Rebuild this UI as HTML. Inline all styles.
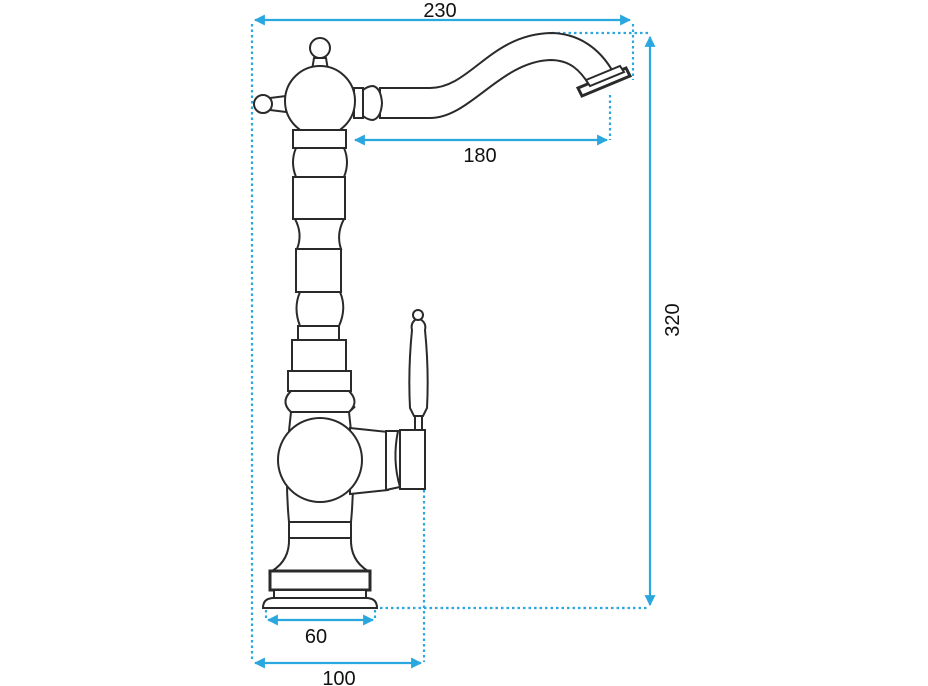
<!DOCTYPE html>
<html><head><meta charset="utf-8"><style>html,body{margin:0;padding:0;background:#fff}svg{display:block}</style></head><body>
<svg width="928" height="686" viewBox="0 0 928 686" xmlns="http://www.w3.org/2000/svg">
<defs><marker id="a" viewBox="0 0 10 10" refX="9" refY="5" markerWidth="5" markerHeight="5" orient="auto-start-reverse"><path d="M0,0L10,5L0,10z" fill="#2aa7df"/></marker></defs>
<g fill="none" stroke="#2aa7df" stroke-width="2.2">
<g stroke-dasharray="2.5,3">
<path d="M252,24V662"/><path d="M633,24V80"/><path d="M552,33H648"/><path d="M610,95V140"/>
<path d="M380,608H648"/><path d="M424,490V662"/><path d="M266,610V620"/><path d="M375,610V620"/>
</g>
<path d="M255,20H630" marker-start="url(#a)" marker-end="url(#a)"/>
<path d="M650,37V605" marker-start="url(#a)" marker-end="url(#a)"/>
<path d="M355,140H607" marker-start="url(#a)" marker-end="url(#a)"/>
<path d="M268,620H373" marker-start="url(#a)" marker-end="url(#a)"/>
<path d="M255,663H421" marker-start="url(#a)" marker-end="url(#a)"/>
</g>
<g font-family="Liberation Sans, sans-serif" font-size="20" fill="#111" text-anchor="middle">
<text x="440" y="17">230</text><text x="480" y="162">180</text>
<text x="316" y="643">60</text><text x="339" y="685">100</text>
<text transform="translate(679,320) rotate(-90)">320</text>
</g>
<g fill="#fff" stroke="#2a2a2a" stroke-width="2">
<!-- spout -->
<path d="M380,88H430C470,88 490,35 550,33C580,33 600,50 612,70L590,86C580,70 570,60 550,60C500,62 470,118 430,118H380Z"/>
<path d="M578,88L626,68L630,76L582,96Z" stroke-width="3"/>
<path d="M586,80L620,66L624,72L590,86Z"/>
<rect x="354" y="88" width="9" height="30"/>
<path d="M363,90Q368,86 373,86Q381,88 382,103Q381,118 373,120Q368,120 363,116Z"/>
<!-- knobs -->
<path d="M314,58L312,70H328L326,58Z"/><circle cx="320" cy="48" r="10"/>
<path d="M270,98L286,96V112L270,110Z"/><circle cx="263" cy="104" r="9"/>
<circle cx="320" cy="101" r="35"/>
<!-- column -->
<rect x="293" y="130" width="53" height="18"/>
<path d="M296,148Q290,162 296,177H344Q350,162 344,148Z"/>
<rect x="293" y="177" width="52" height="42"/>
<path d="M295,219Q303,234 297,249H341Q336,234 344,219Z"/>
<rect x="296" y="249" width="45" height="43"/>
<path d="M300,292Q293,308 300,326H339Q347,308 340,292Z"/>
<rect x="298" y="326" width="41" height="14"/>
<rect x="292" y="340" width="54" height="31"/>
<rect x="288" y="371" width="63" height="20"/>
<path d="M291,391Q280,402 291,412H349Q360,402 349,412Z"/>
<path d="M291,391Q280,402 291,412H349Q360,402 349,391Z"/>
<!-- body -->
<path d="M291,412Q284,470 289,522H351Q356,470 349,412Z"/>
<rect x="289" y="522" width="62" height="16"/>
<path d="M289,538Q290,560 272,571H368Q350,560 351,538Z"/>
<rect x="270" y="571" width="100" height="19" stroke-width="3"/>
<rect x="274" y="590" width="92" height="8"/>
<path d="M263,608Q263,598 274,598H366Q377,598 377,608Z"/>
<!-- side -->
<path d="M350,428L388,432L388,490L350,494Z"/>
<path d="M386,431L398,431Q392,460 400,487L386,490Z"/>
<rect x="400" y="430" width="25" height="59"/>
<rect x="415" y="416" width="7" height="14"/>
<path d="M418,318Q410,322 412,330Q408,370 410,408L414,416H423L427,408Q429,370 425,330Q427,322 418,318Z"/>
<circle cx="418" cy="315" r="5"/>
<circle cx="320" cy="460" r="42"/>
</g>
</svg>
</body></html>
